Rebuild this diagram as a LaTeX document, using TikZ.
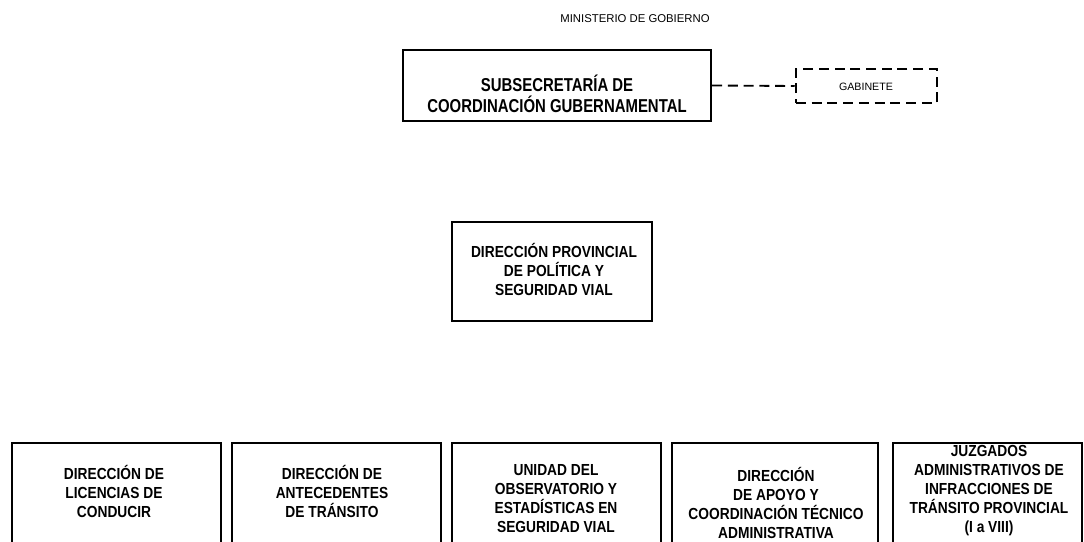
\documentclass[tikz,border=0pt]{standalone}
\usepackage{fontspec}
\setmainfont{Liberation Sans}
\newfontfamily\narrowsf[FakeStretch=0.86]{Liberation Sans}
\newfontfamily\narrowersf[FakeStretch=0.80]{Liberation Sans}

\tikzset{every picture/.style={line width=0.75pt}}
\tikzset{
  orgbox/.style={draw, line width=1.7pt, inner sep=0pt},
  boxtxt/.style={align=center, inner sep=0pt, font=\narrowsf\bfseries\fontsize{12}{14.25}\selectfont},
  smalltxt/.style={inner sep=0pt, font=\fontsize{8.5}{10}\selectfont},
  gapdash/.style={dash pattern=on 7.5pt off 4.3pt}
}

\begin{document}
\begin{tikzpicture}[x=0.75pt,y=0.75pt,yscale=-1,xscale=1]
		\useasboundingbox (0,0) rectangle (1084,542);
		\clip (0,0) rectangle (1084,542);
		
		%Text: header
		\node[smalltxt] (ministerio) at (635,19) {MINISTERIO DE GOBIERNO};
		
		%Shape: Rectangle subsecretaria
		\node[orgbox, minimum width=231pt, minimum height=53.25pt] (subsec) at (557,85.5) {};
		\node[boxtxt, font=\narrowersf\bfseries\fontsize{14}{15.75}\selectfont] (subsec-t) at (557,94) {SUBSECRETARÍA DE\\COORDINACIÓN GUBERNAMENTAL};
		%Shape: Rectangle gabinete
		\node[orgbox, gapdash, line width=1.9pt, minimum width=105.75pt, minimum height=25.5pt] (gabinete) at (866.5,86) {};
		\node[smalltxt, font=\fontsize{8}{10}\selectfont] (gabinete-t) at (866,87) {GABINETE};
		%Straight Lines
		\draw [gapdash, line width=1.4pt] (subsec.east) -- (gabinete.west) ;
		
		%Shape: Rectangle direccion provincial
		\node[orgbox, line width=1.5pt, minimum width=150pt, minimum height=74.25pt] (dirprov) at (552,271.5) {};
		\node[boxtxt] (dirprov-t) at (554,269.5) {DIRECCIÓN PROVINCIAL\\DE POLÍTICA Y\\SEGURIDAD VIAL};
		
		%Shape: Rectangle bottom row
		\node[orgbox, minimum width=156.75pt, minimum height=110.25pt] (licencias) at (116.5,516.5) {};
		\node[boxtxt] (licencias-t) at (114,491) {DIRECCIÓN DE\\LICENCIAS DE\\CONDUCIR};
		\node[orgbox, line width=2.1pt, minimum width=156.75pt, minimum height=110.25pt] (antecedentes) at (336.5,516.5) {};
		\node[boxtxt] (antecedentes-t) at (332,491) {DIRECCIÓN DE\\ANTECEDENTES\\DE TRÁNSITO};
		\node[orgbox, line width=2.1pt, minimum width=156.75pt, minimum height=110.25pt] (observatorio) at (556.5,516.5) {};
		\node[boxtxt] (observatorio-t) at (556,498.5) {UNIDAD DEL\\OBSERVATORIO Y\\ESTADÍSTICAS EN\\SEGURIDAD VIAL};
		\node[orgbox, line width=2.1pt, minimum width=154.5pt, minimum height=110.25pt] (apoyo) at (775,516.5) {};
		\node[boxtxt] (apoyo-t) at (776,503) {DIRECCIÓN\\DE APOYO Y\\COORDINACIÓN TÉCNICO\\ADMINISTRATIVA};
		\node[orgbox, line width=1.1pt, minimum width=141.75pt, minimum height=110.25pt] (juzgados) at (987.5,516.5) {};
		\node[boxtxt] (juzgados-t) at (989,491) {JUZGADOS\\ADMINISTRATIVOS DE\\INFRACCIONES DE\\TRÁNSITO PROVINCIAL\\(I a VIII)};
	\end{tikzpicture}
\end{document}
